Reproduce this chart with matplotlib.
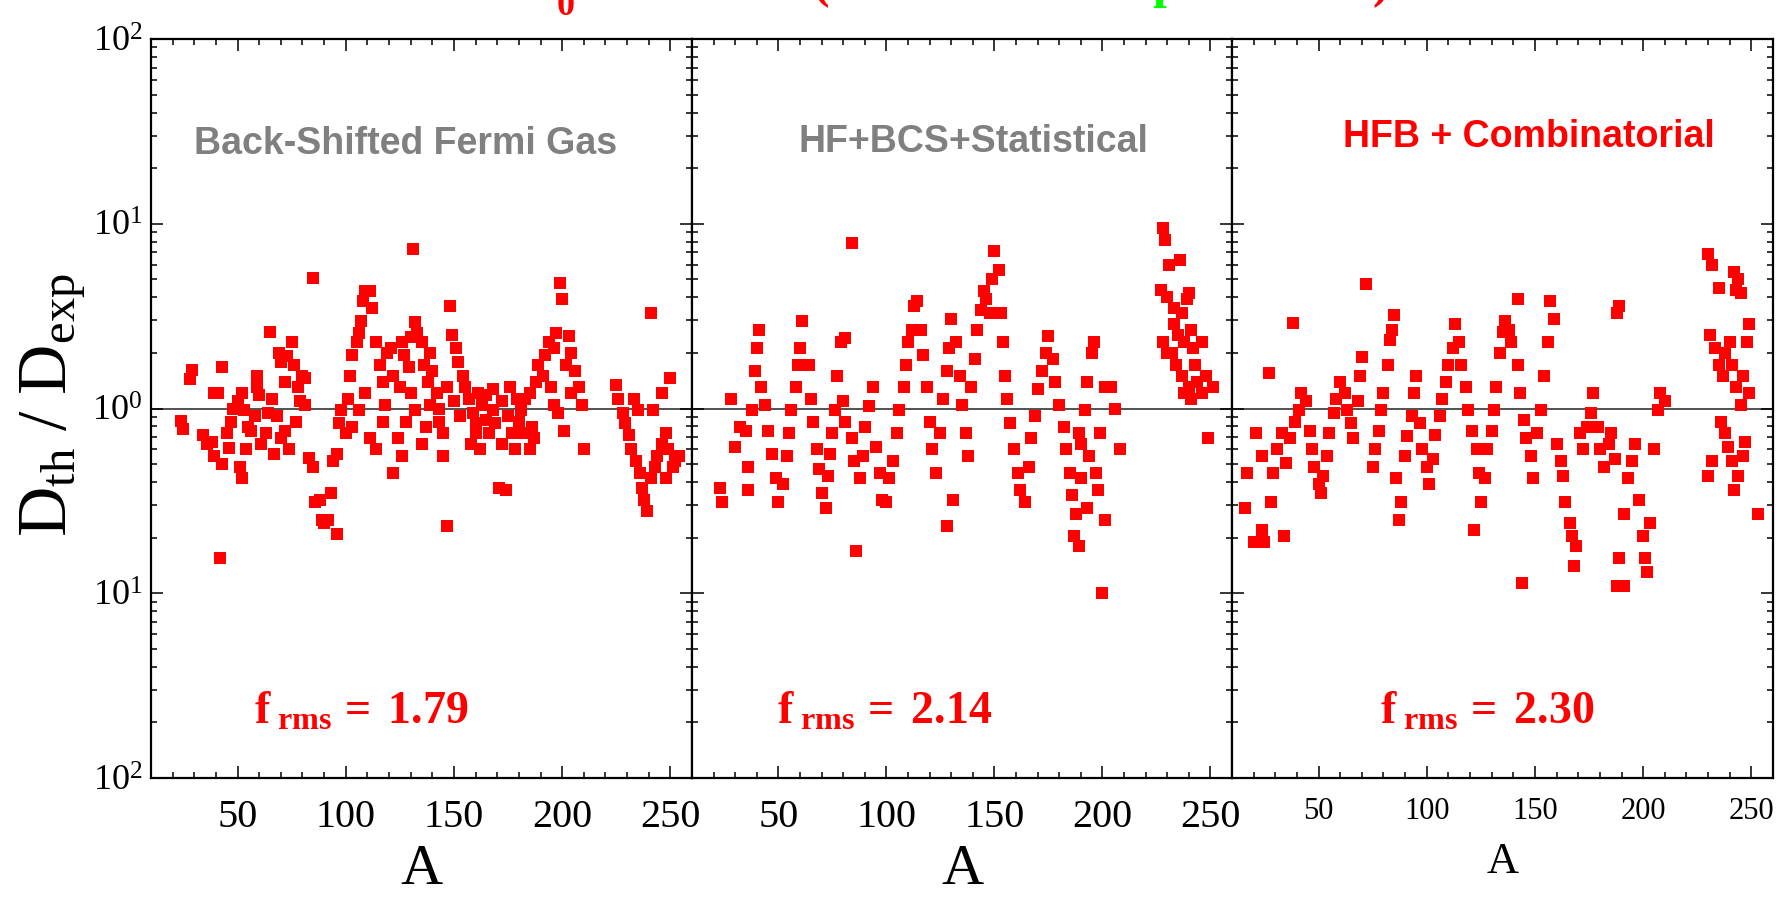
import numpy as np
import matplotlib.pyplot as plt

plt.rcParams['mathtext.fontset'] = 'custom'
plt.rcParams['mathtext.rm'] = 'Liberation Serif'
plt.rcParams['mathtext.it'] = 'Liberation Serif:italic'
plt.rcParams['mathtext.bf'] = 'Liberation Serif:bold'
plt.rcParams['font.family'] = 'Liberation Serif'

# ---- data: mass number A and ratio D_th / D_exp ----
A_bsfg = [24, 25, 28, 29, 34, 36, 39, 38, 39, 41, 43, 43, 46, 45, 42, 47, 48, 50, 52, 53,
          55, 51, 52, 54, 56, 59, 59, 60, 58, 61, 65, 69, 70, 72, 73, 75, 76, 78, 80, 81,
          68, 70, 72, 74, 77, 79, 81, 63, 64, 66, 67, 85, 83, 85, 86, 88, 89, 90, 92, 93,
          94, 96, 96, 97, 98, 100, 102, 103, 105, 106, 107, 108, 109, 111, 112, 114, 116, 117, 119, 101,
          103, 106, 109, 111, 114, 117, 118, 121, 122, 125, 126, 127, 129, 130, 131, 132, 133, 135, 136, 138,
          139, 122, 124, 126, 128, 130, 132, 135, 137, 139, 140, 142, 143, 145, 147, 148, 149, 151, 152, 154,
          150, 147, 145, 143, 153, 155, 157, 159, 160, 161, 163, 165, 166, 168, 169, 171, 174, 172, 175, 177,
          178, 180, 181, 183, 185, 186, 187, 158, 160, 162, 165, 168, 172, 176, 179, 182, 185, 188, 189, 191,
          192, 194, 196, 197, 199, 200, 202, 203, 204, 206, 208, 209, 195, 196, 198, 201, 204, 210, 225, 226,
          228, 229, 231, 232, 234, 236, 237, 238, 239, 241, 241, 243, 244, 246, 248, 249, 251, 252, 254, 242,
          246, 248, 235, 233, 250]
r_bsfg = [0.86, 0.77, 1.44, 1.61, 0.72, 0.64, 0.55, 0.66, 1.21, 1.21, 1.68, 0.50, 0.61, 0.74, 0.155, 0.85, 1.00, 1.10, 1.21, 0.98,
          0.79, 0.48, 0.42, 0.60, 0.76, 1.30, 1.50, 1.19, 0.91, 0.64, 2.60, 2.00, 1.78, 1.40, 1.93, 2.30, 1.73, 1.30, 1.50, 1.05,
          0.91, 0.69, 0.76, 0.60, 0.85, 1.10, 1.46, 0.74, 0.95, 1.13, 0.57, 5.10, 0.54, 0.48, 0.31, 0.32, 0.25, 0.24, 0.25, 0.35,
          0.52, 0.57, 0.21, 0.83, 0.98, 0.74, 1.50, 1.94, 2.30, 2.57, 2.97, 3.80, 4.30, 4.30, 3.50, 2.30, 1.73, 1.40, 1.99, 1.13,
          0.79, 0.98, 1.21, 0.69, 0.60, 0.85, 1.05, 2.13, 1.50, 1.30, 2.30, 1.94, 1.68, 2.43, 7.30, 2.93, 2.57, 2.30, 1.73, 1.40,
          1.05, 0.45, 0.69, 0.55, 0.85, 1.21, 0.98, 0.64, 0.79, 1.99, 1.60, 1.21, 0.85, 0.74, 1.30, 3.60, 2.50, 2.13, 1.78, 1.50,
          1.10, 0.23, 0.55, 1.00, 0.91, 1.30, 1.13, 0.95, 0.83, 1.21, 1.05, 0.87, 0.74, 0.98, 0.83, 0.37, 0.36, 0.64, 0.91, 0.74,
          0.60, 0.85, 0.98, 1.13, 1.21, 0.79, 0.69, 0.64, 0.74, 0.60, 1.18, 1.27, 1.10, 1.30, 1.13, 0.74, 0.60, 1.40, 1.73, 1.50,
          1.94, 2.30, 2.13, 2.57, 4.80, 3.90, 1.73, 2.46, 1.99, 1.60, 1.30, 1.05, 1.30, 1.05, 0.95, 0.76, 1.21, 0.60, 1.34, 1.13,
          0.95, 0.83, 0.72, 0.60, 0.52, 0.45, 0.37, 0.32, 0.28, 3.30, 0.42, 0.48, 0.55, 0.64, 0.74, 0.60, 0.48, 0.52, 0.55, 0.98,
          1.21, 0.42, 0.98, 1.13, 1.46]

A_hfbcs = [23, 24, 28, 30, 32, 35, 36, 36, 38, 39, 40, 41, 42, 44, 45, 47, 49, 50, 52, 54,
           55, 56, 58, 59, 60, 61, 64, 65, 66, 68, 69, 70, 72, 73, 74, 75, 76, 77, 79, 81,
           84, 80, 81, 84, 85, 86, 88, 89, 90, 92, 94, 95, 97, 98, 100, 101, 103, 105, 106, 108,
           109, 110, 112, 113, 114, 116, 117, 119, 120, 121, 123, 125, 126, 128, 129, 130, 132, 134, 135, 137,
           138, 128, 131, 139, 141, 142, 144, 145, 146, 148, 149, 150, 152, 153, 154, 155, 156, 157, 159, 161,
           162, 164, 166, 167, 169, 170, 172, 174, 175, 177, 178, 180, 182, 183, 185, 186, 188, 190, 190, 192,
           193, 195, 196, 187, 189, 193, 200, 197, 199, 201, 204, 206, 208, 201, 198, 194, 189, 228, 229, 231,
           236, 227, 230, 233, 237, 239, 240, 233, 235, 238, 228, 230, 234, 237, 240, 242, 243, 241, 246, 244,
           246, 238, 241, 248, 251, 249, 232]
r_hfbcs = [0.37, 0.31, 1.13, 0.62, 0.79, 0.76, 0.48, 0.36, 0.98, 1.60, 2.13, 2.65, 1.30, 1.05, 0.76, 0.57, 0.42, 0.31, 0.39, 0.55,
           0.74, 0.98, 1.30, 1.73, 2.13, 2.97, 1.73, 1.13, 0.85, 0.60, 0.47, 0.35, 0.29, 0.43, 0.57, 0.74, 0.98, 1.50, 2.30, 2.40,
           7.90, 1.10, 0.85, 0.69, 0.52, 0.17, 0.42, 0.55, 0.79, 1.03, 1.30, 0.62, 0.45, 0.32, 0.31, 0.42, 0.52, 0.74, 0.98, 1.30,
           1.73, 2.30, 2.65, 3.60, 3.80, 2.65, 1.94, 1.30, 0.85, 0.60, 0.45, 0.74, 1.13, 1.60, 2.13, 3.05, 2.30, 1.50, 1.05, 0.74,
           0.55, 0.23, 0.32, 1.30, 1.86, 2.65, 3.40, 4.30, 3.90, 3.30, 5.00, 7.10, 5.60, 3.30, 2.30, 1.50, 1.13, 0.83, 0.60, 0.45,
           0.36, 0.31, 0.48, 0.69, 0.91, 1.27, 1.60, 1.99, 2.46, 1.86, 1.40, 1.05, 0.79, 0.60, 0.45, 0.34, 0.27, 0.42, 0.64, 0.98,
           1.40, 1.99, 2.30, 0.205, 0.18, 0.29, 0.10, 0.45, 0.74, 1.30, 1.30, 1.00, 0.60, 0.25, 0.36, 0.55, 0.74, 9.50, 8.20, 6.00,
           6.40, 4.40, 4.00, 3.50, 3.30, 3.90, 4.20, 2.85, 2.50, 2.30, 2.30, 2.00, 1.73, 1.50, 1.30, 2.13, 1.73, 2.65, 2.30, 1.40,
           1.21, 1.21, 1.13, 1.50, 1.30, 0.69, 2.00]

A_hfbc = [16, 17, 20, 22, 25, 24, 21, 24, 27, 28, 29, 31, 33, 34, 35, 37, 38, 39, 41, 42,
          44, 46, 47, 48, 50, 51, 52, 54, 55, 57, 58, 60, 62, 63, 65, 66, 68, 69, 70, 72,
          75, 76, 78, 79, 80, 82, 83, 84, 85, 86, 87, 88, 90, 91, 93, 94, 95, 97, 98, 100,
          101, 103, 104, 106, 107, 109, 110, 112, 113, 115, 116, 118, 119, 121, 123, 124, 125, 122, 127, 128,
          130, 131, 132, 134, 135, 136, 138, 139, 142, 142, 143, 145, 146, 148, 149, 144, 151, 153, 154, 156,
          157, 159, 160, 162, 163, 164, 166, 167, 168, 169, 171, 172, 174, 176, 177, 179, 180, 182, 184, 185,
          187, 188, 189, 188, 191, 189, 191, 193, 195, 196, 198, 200, 201, 202, 203, 205, 207, 208, 210, 230,
          232, 235, 242, 243, 244, 245, 231, 233, 235, 237, 238, 240, 241, 243, 245, 246, 248, 249, 236, 238,
          239, 241, 242, 244, 246, 247, 230, 232, 249, 253]
r_hfbc = [0.29, 0.45, 0.19, 0.19, 0.19, 0.22, 0.74, 0.55, 1.55, 0.31, 0.45, 0.60, 0.74, 0.205, 0.51, 0.69, 2.90, 0.85, 0.98, 1.21,
          1.10, 0.76, 0.60, 0.48, 0.39, 0.35, 0.43, 0.55, 0.74, 0.95, 1.13, 1.40, 1.21, 0.98, 0.83, 0.69, 1.10, 1.50, 1.91, 4.70,
          0.48, 0.60, 0.76, 0.98, 1.21, 1.73, 2.36, 2.65, 3.20, 0.42, 0.25, 0.31, 0.55, 0.71, 0.91, 1.21, 1.50, 0.83, 0.60, 0.48,
          0.39, 0.53, 0.72, 0.91, 1.13, 1.40, 1.73, 2.13, 2.85, 2.30, 1.73, 1.30, 0.98, 0.76, 0.60, 0.45, 0.31, 0.22, 0.42, 0.60,
          0.76, 0.98, 1.30, 1.99, 2.60, 2.97, 2.65, 2.30, 3.90, 1.73, 1.21, 0.87, 0.69, 0.55, 0.42, 0.113, 0.74, 0.98, 1.50, 2.30,
          3.80, 3.05, 0.64, 0.52, 0.43, 0.31, 0.24, 0.205, 0.14, 0.18, 0.74, 0.60, 0.79, 0.95, 1.21, 0.79, 0.60, 0.48, 0.64, 0.74,
          0.53, 3.30, 3.60, 0.11, 0.11, 0.155, 0.27, 0.42, 0.52, 0.64, 0.32, 0.205, 0.155, 0.13, 0.24, 0.60, 0.98, 1.21, 1.10, 6.90,
          6.00, 4.50, 5.50, 4.40, 5.00, 4.20, 2.50, 2.13, 1.73, 1.50, 1.99, 2.30, 1.73, 1.30, 1.05, 1.50, 2.30, 2.85, 0.85, 0.74,
          0.62, 0.52, 0.36, 0.43, 0.55, 0.66, 0.43, 0.52, 1.21, 0.27]

panels = [
    (A_bsfg, r_bsfg, 'Back-Shifted Fermi Gas', '#808080', '1.79'),
    (A_hfbcs, r_hfbcs, 'HF+BCS+Statistical', '#808080', '2.14'),
    (A_hfbc, r_hfbc, 'HFB + Combinatorial', '#ff0000', '2.30'),
]

fig = plt.figure(figsize=(17.87, 8.99), dpi=100)
W, H = 1787.0, 899.0
lefts = [151, 692, 1232]
rights = [692, 1232, 1773]
top, bottom = 39, 778
name_x = [0.47, 0.522, 0.549]
name_y = [0.858, 0.860, 0.867]
frms_x = [0.19, 0.157, 0.274]

for i, (A, r, name, ncol, frms) in enumerate(panels):
    ax = fig.add_axes([lefts[i] / W, 1 - bottom / H, (rights[i] - lefts[i]) / W, (bottom - top) / H])
    ax.plot(A, r, 's', color='#ff0000', ms=9, mew=0)
    ax.axhline(1.0, color='#333333', lw=1.2, zorder=0)
    ax.set_yscale('log')
    ax.set_ylim(1e-2, 1e2)
    ax.set_xlim(10, 260)
    ax.set_xticks([50, 100, 150, 200, 250])
    ax.set_xticks(np.arange(10, 260, 10), minor=True)
    ax.set_yticks([1e-2, 1e-1, 1, 10, 100], labels=['10$^{2}$', '10$^{1}$', '10$^{0}$', '10$^{1}$', '10$^{2}$'])
    ax.tick_params(which='both', direction='in', top=True, right=True, width=1.1, colors='black')
    ax.tick_params(which='major', length=8.5)
    ax.tick_params(which='minor', length=4.3)
    for sp in ax.spines.values():
        sp.set_linewidth(1.6)
    if i < 2:
        ax.tick_params(axis='x', labelsize=29, pad=15)
        ax.set_xlabel('A', fontsize=42, labelpad=6)
    else:
        ax.tick_params(axis='x', labelsize=22, pad=14)
        ax.set_xlabel('A', fontsize=32, labelpad=11)
    if i == 0:
        ax.tick_params(axis='y', which='major', labelsize=26, pad=6)
    else:
        ax.tick_params(axis='y', labelleft=False)
    ax.text(name_x[i], name_y[i], name, transform=ax.transAxes, ha='center', va='center',
            fontsize=27, fontweight='bold', color=ncol, family='Liberation Sans')
    ax.text(frms_x[i], 0.074, r'$\mathbf{f}_{\ \mathbf{rms}}\mathbf{\,=\ ' + frms + '}$',
            transform=ax.transAxes, ha='left', va='baseline', fontsize=33, color='#ff0000')

fig.text(0.03, 0.549, r'$\mathrm{D_{th}\ /\ D_{exp}}$', rotation=90, ha='center', va='center', fontsize=50)

# title line, almost entirely above the top edge of the picture
ty = 1 + 3 / H
fig.text(0.293, ty, 'D', ha='left', va='baseline', fontsize=36, fontweight='bold', color='#ff0000')
fig.text(557 / W, 1 - 15 / H, '0', ha='left', va='baseline', fontsize=26, fontweight='bold', color='#ff0000')
fig.text(0.345, ty, 'values', ha='left', va='baseline', fontsize=36, fontweight='bold', color='#ff0000')
fig.text(0.455, ty, '(s-wave and', ha='left', va='baseline', fontsize=36, fontweight='bold', color='#ff0000')
fig.text(0.645, ty, 'p-wave data', ha='left', va='baseline', fontsize=36, fontweight='bold', color='#00ff00')
fig.text(0.768, ty, ')', ha='left', va='baseline', fontsize=36, fontweight='bold', color='#ff0000')

fig.savefig('out.png', dpi=100)
